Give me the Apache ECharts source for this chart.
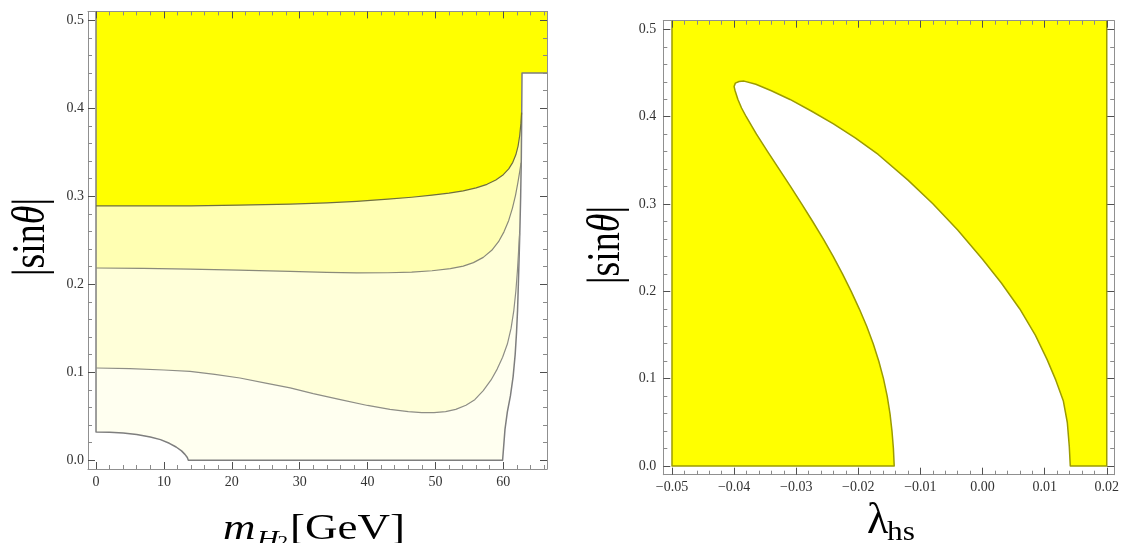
<!DOCTYPE html>
<html><head><meta charset="utf-8">
<script src="https://cdn.jsdelivr.net/npm/echarts@6/dist/echarts.min.js"></script>
<style>html,body{margin:0;padding:0;background:#fff}#c{width:1122px;height:543px}</style>
</head><body><div id="c"></div>
<script>
// ---------- data ----------
// left panel: m_H2 [GeV] vs |sin theta|
const L_X_RANGE = [-1.18, 66.44];
const Y_RANGE = [-0.01, 0.51];
const L_X_TICKS = [0, 10, 20, 30, 40, 50, 60];
const Y_TICKS = [0, 0.1, 0.2, 0.3, 0.4, 0.5];
// lower boundary of the coloured region (left part)
const C0 = [[0,0.032],[2,0.0318],[4,0.031],[6,0.0293],[8,0.0264],[9.5,0.0234],[10.8,0.0192],[11.8,0.0150],[12.6,0.0106],[13.1,0.0066],[13.45,0.003],[13.6,0]];
// right boundary (steep edge) ending at the shelf
const R = [[59.9,0],[60.05,0.015],[60.25,0.035],[60.6,0.055],[61.05,0.073],[61.45,0.095],[61.75,0.12],[61.95,0.145],[62.1,0.17],[62.22,0.2],[62.35,0.235],[62.46,0.266],[62.56,0.3],[62.65,0.34],[62.71,0.39],[62.76,0.44]];
// contour lines, left to right, ending where they merge into R
const C1 = [[0,0.1048],[5,0.104],[10,0.1025],[13.85,0.101],[17.5,0.0975],[21.2,0.0934],[25,0.0875],[28.6,0.0822],[32,0.0757],[36,0.0688],[40,0.0622],[43.3,0.0578],[46,0.0552],[48,0.0541],[49.8,0.0540],[51.5,0.0552],[53,0.0578],[54.5,0.0625],[55.8,0.0688],[57.05,0.0790],[58.2,0.0912],[59.1,0.1035],[59.9,0.117],[60.6,0.132],[61.15,0.15],[61.55,0.17],[61.85,0.192],[62.08,0.215],[62.25,0.237],[62.4,0.258]];
const C2 = [[0,0.2184],[7,0.218],[13.85,0.2172],[21,0.216],[28.6,0.2146],[34,0.2134],[38.4,0.2128],[43,0.213],[46.5,0.2138],[49.5,0.2153],[52.2,0.2177],[54.1,0.2205],[55.6,0.2245],[57.05,0.2305],[58.3,0.2385],[59.3,0.2483],[60.1,0.2595],[60.8,0.2725],[61.35,0.2865],[61.8,0.301],[62.15,0.3155],[62.42,0.328],[62.62,0.338]];
const C3 = [[0,0.289],[7,0.289],[14,0.289],[21,0.2898],[28.6,0.291],[34,0.2925],[38.4,0.2942],[43,0.2966],[46.5,0.2988],[49.5,0.3012],[52,0.3035],[54.1,0.306],[56,0.3095],[57.6,0.3135],[58.9,0.3185],[60,0.3245],[60.8,0.331],[61.4,0.3385],[61.85,0.347],[62.18,0.357],[62.42,0.369],[62.6,0.383],[62.7,0.395]];

// right panel: lambda_hs vs |sin theta|
const R_X_RANGE = [-0.0514, 0.0212];
const R_X_TICKS = [-0.05, -0.04, -0.03, -0.02, -0.01, 0, 0.01, 0.02];
const R_FILL_X = [-0.05, 0.02];
// allowed (white) region: left edge bottom -> tip, then upper edge tip -> bottom
const WL = [[-0.01422,0],[-0.01435,0.02],[-0.01458,0.04],[-0.0149,0.06],[-0.01535,0.08],[-0.01595,0.1],[-0.0167,0.12],[-0.0176,0.14],[-0.01865,0.16],[-0.01985,0.18],[-0.02115,0.2],[-0.02255,0.22],[-0.02405,0.24],[-0.02565,0.26],[-0.02735,0.28],[-0.0291,0.3],[-0.0309,0.32],[-0.03275,0.34],[-0.0346,0.36],[-0.0364,0.38],[-0.03805,0.4],[-0.0388,0.41],[-0.0394,0.42],[-0.03985,0.43],[-0.04,0.4345],[-0.0398,0.4385],[-0.0392,0.4403]];
const WR = [[-0.0384,0.4408],[-0.0365,0.4372],[-0.034,0.4298],[-0.031,0.4198],[-0.0275,0.4063],[-0.024,0.3918],[-0.0205,0.3758],[-0.0168,0.3568],[-0.012,0.3274],[-0.008,0.3003],[-0.004,0.2703],[0,0.2368],[0.003,0.2098],[0.006,0.1798],[0.0085,0.1498],[0.0104,0.1218],[0.0118,0.0983],[0.013,0.0748],[0.01365,0.0498],[0.01397,0.0221],[0.01413,0]];

// ---------- styling ----------
const FONT = '"Liberation Serif", "Times New Roman", serif';
const FRAME = '#909090', TICK = '#505050', MTICK = '#8a8a8a', LBL = '#333';
const YELLOW = '#ffff00', BAND2 = '#ffffb2', BAND3 = '#ffffd9', BAND4 = '#fffff0';

function minorList(lo, hi, step, majors) {
  const out = [];
  for (let k = Math.ceil(lo / step - 1e-9); k * step <= hi + 1e-12; k++) {
    const v = +(k * step).toFixed(6);
    if (!majors.some(m => Math.abs(m - v) < step / 10)) out.push(v);
  }
  return out;
}
const L_X_MINOR = minorList(L_X_RANGE[0], L_X_RANGE[1], 2, L_X_TICKS);
const R_X_MINOR = minorList(R_X_RANGE[0], R_X_RANGE[1], 0.002, R_X_TICKS);
const Y_MINOR = minorList(Y_RANGE[0], Y_RANGE[1], 0.02, Y_TICKS);

function axisSet(dim, gi, range, majors, minors, fmt, margin) {
  const lo = dim === 'x' ? 'bottom' : 'left', hi = dim === 'x' ? 'top' : 'right';
  const b = {type: 'value', gridIndex: gi, min: range[0], max: range[1], z: 20, silent: true,
             splitLine: {show: false}, axisPointer: {show: false}};
  const line = show => ({show, onZero: false, lineStyle: {color: FRAME, width: 1}});
  const tick = (vals, len, col) => ({show: true, inside: true, length: len, customValues: vals, lineStyle: {color: col, width: 1}});
  return [
    Object.assign({}, b, {position: lo, axisLine: line(true), axisTick: tick(majors, 7, TICK),
      axisLabel: {show: true, customValues: majors, formatter: fmt, margin, fontFamily: FONT, fontSize: 14, color: LBL}}),
    Object.assign({}, b, {position: lo, axisLine: line(false), axisTick: tick(minors, 4, MTICK), axisLabel: {show: false}}),
    Object.assign({}, b, {position: hi, axisLine: line(true), axisTick: tick(majors, 7, TICK), axisLabel: {show: false}}),
    Object.assign({}, b, {position: hi, axisLine: line(false), axisTick: tick(minors, 4, MTICK), axisLabel: {show: false}})
  ];
}

const fmtY = v => v.toFixed(1);
const fmtLX = v => String(Math.round(v));
const fmtRX = v => (v < -1e-9 ? '\u2212' : '') + Math.abs(v).toFixed(2);

function poly(gi, pts, color, z) {
  return {type: 'custom', xAxisIndex: gi * 4, yAxisIndex: gi * 4, clip: true, silent: true, z,
    data: [[0, 0]],
    renderItem: (params, api) => ({type: 'polygon', shape: {points: pts.map(p => api.coord(p))},
      style: {fill: color, stroke: null}})};
}
function line(gi, pts, color, width, z) {
  return {type: 'line', xAxisIndex: gi * 4, yAxisIndex: gi * 4, data: pts, showSymbol: false, symbol: 'none',
    silent: true, z, clip: true, lineStyle: {color, width, join: 'round'}};
}

// build left-panel layers from the curves
const YTOP = Y_RANGE[1];
const RTOP = R[R.length - 1];
function above(curve) {
  const last = curve[curve.length - 1];
  return R.filter(p => p[1] > last[1] + 1e-9);
}
const L0 = [[0, YTOP]].concat(C0, R, [[RTOP[0], YTOP]]);
const L1 = [[0, YTOP]].concat(C1, above(C1), [[RTOP[0], YTOP]]);
const L2 = [[0, YTOP]].concat(C2, above(C2), [[RTOP[0], YTOP]]);
const L3 = [[0, YTOP]].concat(C3, above(C3), [[L_X_RANGE[1], RTOP[1]], [L_X_RANGE[1], YTOP]]);
const OUTER = [[0, YTOP]].concat(C0, R, [[L_X_RANGE[1], RTOP[1]]]);

// right panel
const RRECT = [[R_FILL_X[0], 0], [R_FILL_X[0], YTOP], [R_FILL_X[1], YTOP], [R_FILL_X[1], 0]];
const WHITE = WL.concat(WR);
const RBOUND = [[R_FILL_X[0], YTOP], [R_FILL_X[0], 0]].concat(WL, WR, [[R_FILL_X[1], 0], [R_FILL_X[1], YTOP]]);

const nameRich = {a: {fontFamily: FONT, fontSize: 38, fill: '#000'}, b: {fontFamily: FONT, fontSize: 38, fontStyle: 'italic', fill: '#000'}};

const chart = echarts.init(document.getElementById('c'));
chart.setOption({
  animation: false,
  backgroundColor: '#fff',
  grid: [
    {left: 88, top: 11.4, width: 459, height: 457.6},
    {left: 663.3, top: 20.7, width: 454, height: 454}
  ],
  xAxis: axisSet('x', 0, L_X_RANGE, L_X_TICKS, L_X_MINOR, fmtLX, 6)
    .concat(axisSet('x', 1, R_X_RANGE, R_X_TICKS, R_X_MINOR, fmtRX, 6)),
  yAxis: axisSet('y', 0, Y_RANGE, Y_TICKS, Y_MINOR, fmtY, 4)
    .concat(axisSet('y', 1, Y_RANGE, Y_TICKS, Y_MINOR, fmtY, 7)),
  series: [
    poly(0, L0, BAND4, 1),
    poly(0, L1, BAND3, 2),
    poly(0, L2, BAND2, 3),
    poly(0, L3, YELLOW, 4),
    line(0, OUTER, '#7e7e7e', 1.5, 10),
    line(0, C1, '#8e8e86', 1.2, 10),
    line(0, C2, '#8a8a7a', 1.2, 10),
    line(0, C3, '#6f6f3f', 1.2, 10),
    poly(1, RRECT, YELLOW, 1),
    poly(1, WHITE, '#ffffff', 2),
    line(1, RBOUND, '#9c9c00', 1.5, 10)
  ],
  graphic: [
    {type: 'text', x: 32, y: 237, rotation: Math.PI / 2, scaleY: 1.22, z: 50,
      style: {text: '{a||sin}{b|θ}{a||}', align: 'center', verticalAlign: 'middle', rich: nameRich}},
    {type: 'text', x: 607, y: 245, rotation: Math.PI / 2, scaleY: 1.22, z: 50,
      style: {text: '{a||sin}{b|θ}{a||}', align: 'center', verticalAlign: 'middle', rich: nameRich}},
    {type: 'text', x: 223, y: 529.5, scaleX: 1.25, z: 50,
      style: {text: 'm', fontFamily: FONT, fontSize: 36, fontStyle: 'italic', fill: '#000', align: 'left', verticalAlign: 'middle'}},
    {type: 'text', x: 257, y: 539.6, scaleX: 1.25, z: 50,
      style: {text: 'H', fontFamily: FONT, fontSize: 24, fontStyle: 'italic', fill: '#000', align: 'left', verticalAlign: 'middle'}},
    {type: 'text', x: 277.5, y: 543, scaleX: 1.25, z: 50,
      style: {text: '2', fontFamily: FONT, fontSize: 17, fill: '#000', align: 'left', verticalAlign: 'middle'}},
    {type: 'text', x: 290, y: 529.5, scaleX: 1.25, z: 50,
      style: {text: '[GeV]', fontFamily: FONT, fontSize: 36, fill: '#000', align: 'left', verticalAlign: 'middle'}},
    {type: 'text', x: 867, y: 521.9, z: 50,
      style: {text: 'λ', fontFamily: FONT, fontSize: 44, fill: '#000', align: 'left', verticalAlign: 'middle'}},
    {type: 'text', x: 887, y: 533, scaleX: 1.12, z: 50,
      style: {text: 'hs', fontFamily: FONT, fontSize: 28, fill: '#000', align: 'left', verticalAlign: 'middle'}}
  ]
});
</script></body></html>
